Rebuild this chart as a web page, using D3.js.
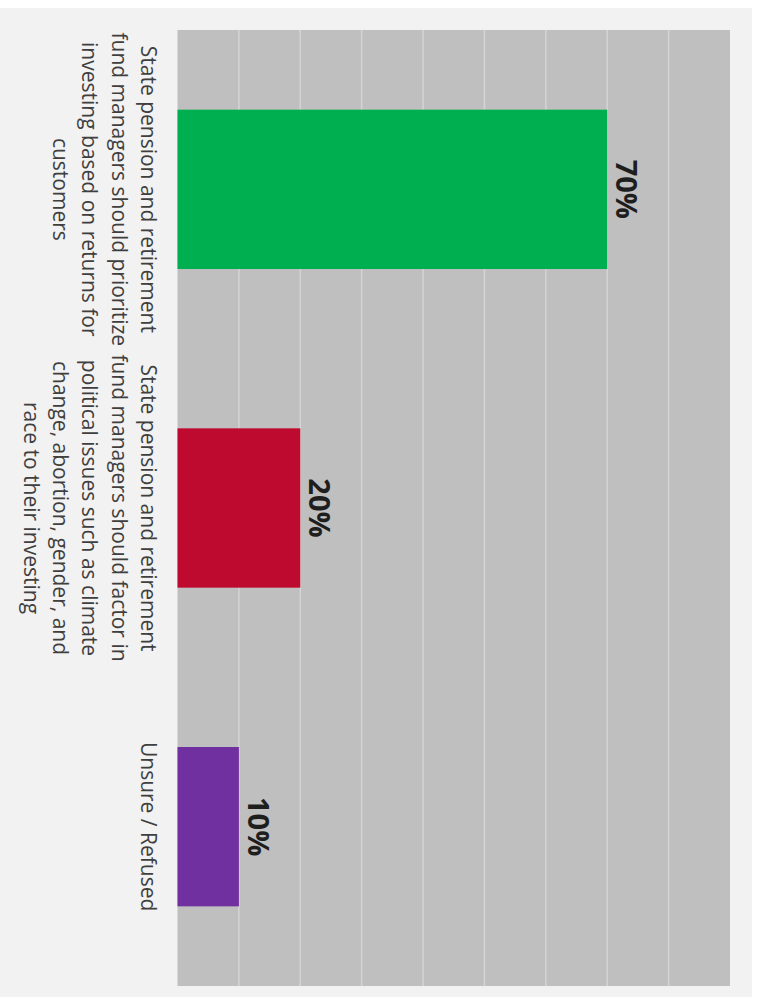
<!DOCTYPE html>
<html>
<head>
<meta charset="utf-8">
<script src="https://cdn.jsdelivr.net/npm/d3@7"></script>
<style>
  html, body { margin: 0; padding: 0; background: #ffffff; }
  svg { display: block; }
</style>
</head>
<body>
<svg id="chart" width="758" height="997"></svg>
<script>
// Survey answers: wrapped category labels, one entry per column
const categories = [
  ["State pension and retirement", "fund managers should prioritize", "investing based on returns for", "customers"],
  ["State pension and retirement", "fund managers should factor in", "political issues such as climate", "change, abortion, gender, and", "race to their investing"],
  ["Unsure / Refused"]
];
// Share of respondents per answer
const shares = [0.70, 0.20, 0.10];
// Column fills
const barColors = ["#00b050", "#be0a2e", "#7030a0"];
// Value axis extent
const valueDomain = [0, 0.9];

// The column chart is laid out in its own frame (W x H) and then turned
// a quarter turn clockwise onto the page.
const W = 997, H = 758;
const plot = { left: 30, right: 986, top: 28, bottom: 580.5 };

const svg = d3.select("#chart");
const frame = svg.append("g")
  .attr("transform", `translate(${H},0) rotate(90)`);

// Light panel behind the whole chart
frame.append("rect")
  .attr("x", 8).attr("y", 6)
  .attr("width", W - 8).attr("height", H - 6)
  .attr("fill", "#f2f2f2");

const x = d3.scaleBand()
  .domain(d3.range(categories.length))
  .range([plot.left, plot.right])
  .paddingInner(0.5)
  .paddingOuter(0.25);

const y = d3.scaleLinear()
  .domain(valueDomain)
  .range([plot.bottom, plot.top]);

// Plot area
frame.append("rect")
  .attr("x", plot.left).attr("y", plot.top)
  .attr("width", plot.right - plot.left)
  .attr("height", plot.bottom - plot.top)
  .attr("fill", "#bfbfbf");

// Gridlines every 10%
const gridTicks = y.ticks(9).filter(t => t > valueDomain[0] + 1e-9 && t < valueDomain[1] - 1e-9);
frame.append("g")
  .selectAll("line")
  .data(gridTicks)
  .join("line")
  .attr("x1", plot.left).attr("x2", plot.right)
  .attr("y1", d => y(d)).attr("y2", d => y(d))
  .attr("stroke", "#d4d4d4")
  .attr("stroke-width", 1.5);

// Columns
frame.append("g")
  .selectAll("rect")
  .data(shares)
  .join("rect")
  .attr("x", (d, i) => x(i))
  .attr("width", x.bandwidth())
  .attr("y", d => y(d))
  .attr("height", d => y(0) - y(d))
  .attr("fill", (d, i) => barColors[i]);

// Value labels above each column
const pct = d3.format(".0%");
frame.append("g")
  .selectAll("text")
  .data(shares)
  .join("text")
  .attr("x", (d, i) => x(i) + x.bandwidth() / 2)
  .attr("y", d => y(d) - 9)
  .attr("text-anchor", "middle")
  .attr("font-family", "'Open Sans', sans-serif")
  .attr("font-weight", 700)
  .attr("font-size", 29)
  .attr("fill", "#1e1e1e")
  .text(d => pct(d));

// Category labels under the columns
const lineGap = 29.3;
const catLabels = frame.append("g")
  .selectAll("text")
  .data(categories)
  .join("text")
  .attr("x", (d, i) => x(i) + x.bandwidth() / 2)
  .attr("y", plot.bottom + 36.5)
  .attr("text-anchor", "middle")
  .attr("font-family", "'Open Sans', sans-serif")
  .attr("font-size", 21)
  .attr("fill", "#3f3f3f");

catLabels.selectAll("tspan")
  .data(d => d)
  .join("tspan")
  .attr("x", function () { return d3.select(this.parentNode).attr("x"); })
  .attr("dy", (d, j) => j === 0 ? 0 : lineGap)
  .text(d => d);
</script>
</body>
</html>
